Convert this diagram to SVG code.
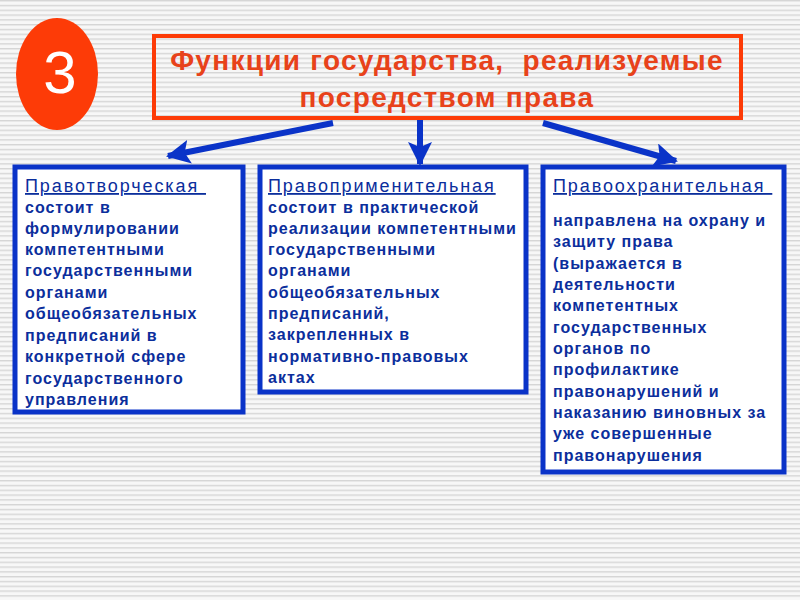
<svg xmlns="http://www.w3.org/2000/svg" width="800" height="600" viewBox="0 0 800 600">
<defs>
<pattern id="bg" width="8" height="4.8" patternUnits="userSpaceOnUse">
<rect width="8" height="4.8" fill="#f7f7f7"/>
<rect y="0" width="8" height="1.4" fill="#d6d6d6"/>
</pattern>
<marker id="ah" markerUnits="userSpaceOnUse" markerWidth="26" markerHeight="24" refX="22" refY="12" orient="auto">
<path d="M0,0 L24,12 L0,24 L5,12 Z" fill="#0a33c8"/>
</marker>
<style>
.box{fill:#ffffff;stroke:#0a33c8;stroke-width:5}
.arr{stroke:#0a33c8;stroke-width:6;fill:none}
.hd{font-family:"Liberation Sans",Arial,sans-serif;font-size:18px;letter-spacing:1.9px;fill:#0b2e9c;text-decoration:underline}
.tx{font-family:"Liberation Sans",Arial,sans-serif;font-size:16px;letter-spacing:1px;font-weight:bold;fill:#0b2e9c}
.tt{font-family:"Liberation Sans",Arial,sans-serif;font-size:28px;letter-spacing:1.3px;font-weight:bold;fill:#e8421a;text-anchor:middle}
</style>
</defs>
<rect width="800" height="600" fill="url(#bg)"/>

<g id="badge">
<ellipse cx="57" cy="74" rx="41" ry="56" fill="#fd3b07"/>
<text x="60" y="93" font-family="'Liberation Sans',Arial,sans-serif" font-size="60" fill="#ffffff" text-anchor="middle">3</text>
</g>

<g id="title">
<rect x="154" y="36" width="587" height="82" fill="none" stroke="#fd3b07" stroke-width="4"/>
<text class="tt" x="447" y="70" xml:space="preserve">Функции государства,  реализуемые</text>
<text class="tt" x="447" y="107">посредством права</text>
</g>

<g id="connectors">
<line class="arr" x1="333" y1="123" x2="168" y2="156" marker-end="url(#ah)"/>
<line class="arr" x1="420" y1="120" x2="420" y2="164" marker-end="url(#ah)"/>
<line class="arr" x1="543" y1="123" x2="676" y2="161" marker-end="url(#ah)"/>
</g>

<g id="node1">
<rect class="box" x="15" y="167" width="228" height="245"/>
<text class="hd" x="25" y="192" xml:space="preserve">Правотворческая </text>
<text class="tx" x="25" y="213">состоит в</text>
<text class="tx" x="25" y="234">формулировании</text>
<text class="tx" x="25" y="255">компетентными</text>
<text class="tx" x="25" y="276">государственными</text>
<text class="tx" x="25" y="298">органами</text>
<text class="tx" x="25" y="319">общеобязательных</text>
<text class="tx" x="25" y="341">предписаний в</text>
<text class="tx" x="25" y="362">конкретной сфере</text>
<text class="tx" x="25" y="384">государственного</text>
<text class="tx" x="25" y="405">управления</text>
</g>

<g id="node2">
<rect class="box" x="260" y="167" width="266" height="225"/>
<text class="hd" x="268" y="192">Правоприменительная</text>
<text class="tx" x="268" y="213">состоит в практической</text>
<text class="tx" x="268" y="234">реализации компетентными</text>
<text class="tx" x="268" y="255">государственными</text>
<text class="tx" x="268" y="276">органами</text>
<text class="tx" x="268" y="298">общеобязательных</text>
<text class="tx" x="268" y="319">предписаний,</text>
<text class="tx" x="268" y="340">закрепленных в</text>
<text class="tx" x="268" y="362">нормативно-правовых</text>
<text class="tx" x="268" y="383">актах</text>
</g>

<g id="node3">
<rect class="box" x="543" y="167" width="241" height="305"/>
<text class="hd" x="553" y="192" xml:space="preserve">Правоохранительная </text>
<text class="tx" x="553" y="226">направлена на охрану и</text>
<text class="tx" x="553" y="247">защиту права</text>
<text class="tx" x="553" y="269">(выражается в</text>
<text class="tx" x="553" y="290">деятельности</text>
<text class="tx" x="553" y="311">компетентных</text>
<text class="tx" x="553" y="333">государственных</text>
<text class="tx" x="553" y="354">органов по</text>
<text class="tx" x="553" y="375">профилактике</text>
<text class="tx" x="553" y="397">правонарушений и</text>
<text class="tx" x="553" y="418">наказанию виновных за</text>
<text class="tx" x="553" y="439">уже совершенные</text>
<text class="tx" x="553" y="461">правонарушения</text>
</g>
</svg>
